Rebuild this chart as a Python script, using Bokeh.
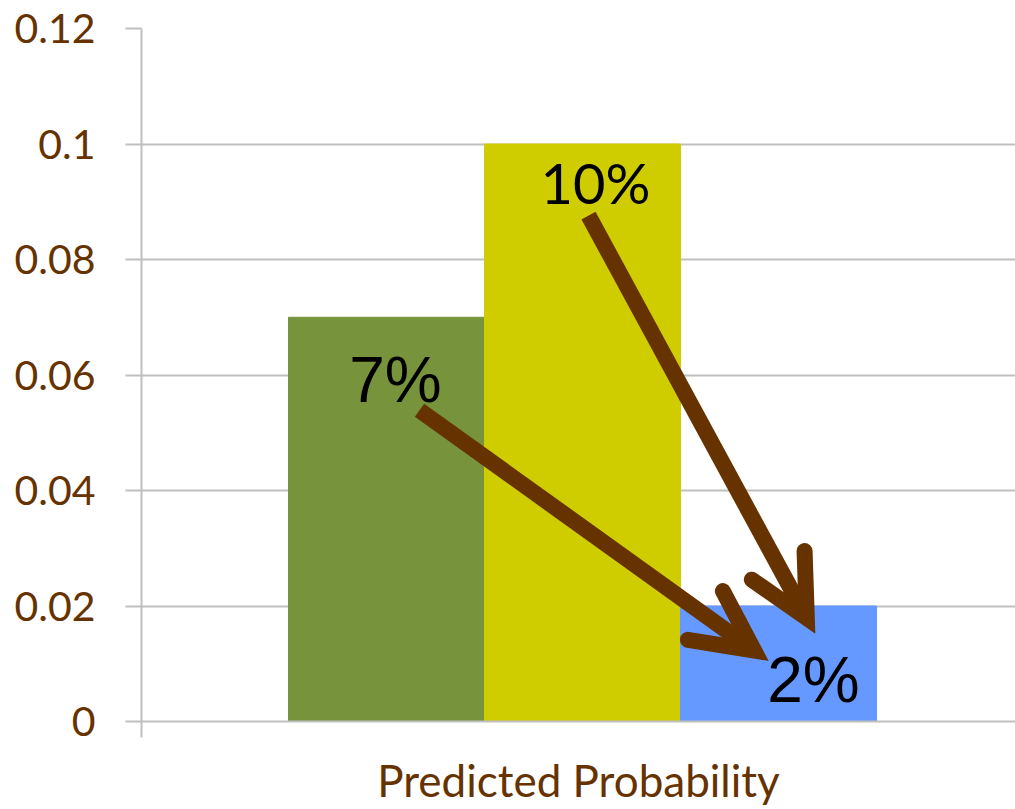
from bokeh.plotting import figure
from bokeh.models import Range1d, FixedTicker, ColumnDataSource, Arrow, OpenHead
from bokeh.core.properties import value
from bokeh.embed import file_html
from bokeh.resources import INLINE

# Data
series = ["Series 1", "Series 2", "Series 3"]
values = [0.07, 0.10, 0.02]
bar_labels = ["7%", "10%", "2%"]
colors = ["#77933C", "#CFCC00", "#6699FF"]
category = "Predicted Probability"
y_ticks = [0, 0.02, 0.04, 0.06, 0.08, 0.10, 0.12]
y_tick_labels = ["0", "0.02", "0.04", "0.06", "0.08", "0.1", "0.12"]

BROWN = "#663300"
GRID = "#BFBFBF"

# one category spanning [-0.5, 0.5]; three bars with 75% gap on each side
bar_w = 1 / 4.5
xs = [(i - 1) * bar_w for i in range(len(values))]

p = figure(width=1015, height=809, output_backend="svg", toolbar_location=None,
           x_range=Range1d(-0.5, 0.4909), y_range=Range1d(0, 0.12),
           min_border_left=141, min_border_right=0, min_border_top=28,
           min_border_bottom=88)
p.outline_line_color = None
p.background_fill_color = "white"
p.border_fill_color = "white"

src = ColumnDataSource(dict(x=xs, top=values, color=colors))
p.vbar(x="x", top="top", bottom=0, width=bar_w, color="color", source=src)

# y axis
p.yaxis.ticker = FixedTicker(ticks=y_ticks)
p.yaxis.major_label_overrides = {t: l for t, l in zip(y_ticks, y_tick_labels)}
p.yaxis.major_label_text_font = "Lato"
p.yaxis.major_label_text_font_size = "41px"
p.yaxis.major_label_text_color = BROWN
p.yaxis.major_label_standoff = 30
p.yaxis.major_tick_out = 16
p.yaxis.major_tick_in = 0
p.yaxis.minor_tick_out = 0
p.yaxis.minor_tick_in = 0
p.yaxis.major_tick_line_color = GRID
p.yaxis.major_tick_line_width = 2
p.yaxis.axis_line_color = GRID
p.yaxis.axis_line_width = 2

# x axis: only the category boundary tick, category name as the axis label
p.xaxis.ticker = FixedTicker(ticks=[-0.5])
p.xaxis.major_label_overrides = {-0.5: ""}
p.xaxis.major_label_text_font_size = "1px"
p.xaxis.major_tick_out = 16
p.xaxis.major_tick_in = 0
p.xaxis.minor_tick_out = 0
p.xaxis.minor_tick_in = 0
p.xaxis.major_tick_line_color = GRID
p.xaxis.major_tick_line_width = 2
p.xaxis.axis_line_color = GRID
p.xaxis.axis_line_width = 2
p.xaxis.axis_label = category
p.xaxis.axis_label_text_font = "Lato"
p.xaxis.axis_label_text_font_size = "44px"
p.xaxis.axis_label_text_font_style = "normal"
p.xaxis.axis_label_text_color = BROWN
p.xaxis.axis_label_standoff = 16

p.xgrid.visible = False
p.ygrid.ticker = FixedTicker(ticks=y_ticks)
p.ygrid.grid_line_color = GRID
p.ygrid.grid_line_width = 2

# value labels, placed a fixed pixel distance from each bar top
label_style = [("Liberation Sans", "64px", 9, 63),
               ("Lato", "56px", 13, 38),
               ("Liberation Sans", "64px", 35, 74)]
for x, v, lab, (font, size, dx, dy) in zip(xs, values, bar_labels, label_style):
    p.text(x=[x], y=[v], text=[lab], text_font=value(font),
           text_font_size=value(size), text_color="black", text_align="center",
           text_baseline="alphabetic", x_offset=dx, y_offset=dy)

# arrows from the two larger values to the smallest one
for (x0, y0, x1, y1) in [(-0.1848, 0.0539, 0.1946, 0.0123),
                         (0.0068, 0.0876, 0.2543, 0.0179)]:
    head = OpenHead(size=60, line_color=BROWN, line_width=16,
                    line_cap="round", line_join="miter")
    p.add_layout(Arrow(end=head, x_start=x0, y_start=y0, x_end=x1, y_end=y1,
                       line_color=BROWN, line_width=16, line_cap="butt"))

open("out.html", "w").write(file_html(p, INLINE))
